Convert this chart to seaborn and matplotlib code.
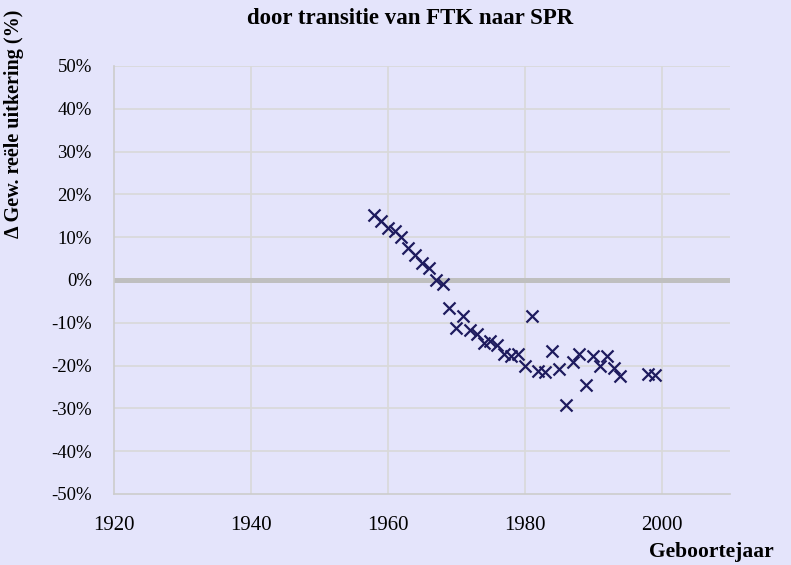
import pandas as pd
import matplotlib.pyplot as plt
import seaborn as sns

# Geboortejaar en verandering van de gewogen reële uitkering (%)
jaren = [1958, 1959, 1960, 1961, 1962, 1963, 1964, 1965, 1966, 1967,
         1968, 1969, 1970, 1971, 1972, 1973, 1974, 1975, 1976, 1977,
         1978, 1979, 1980, 1981, 1982, 1983, 1984, 1985, 1986, 1987,
         1988, 1989, 1990, 1991, 1992, 1993, 1994, 1998, 1999]
delta = [15.1, 13.7, 12.1, 11.4, 10.0, 7.5, 5.8, 4.0, 2.8, 0.1,
         -0.9, -6.6, -11.2, -8.5, -11.6, -12.6, -14.7, -14.3, -15.1, -17.4,
         -17.8, -17.3, -20.2, -8.5, -21.2, -21.5, -16.5, -20.7, -29.1, -19.2,
         -17.3, -24.6, -17.8, -20.2, -17.8, -20.6, -22.5, -22.0, -22.1]

x_ticks = [1920, 1940, 1960, 1980, 2000]
y_ticks = [-50, -40, -30, -20, -10, 0, 10, 20, 30, 40, 50]
y_labels = [f"{v}%" for v in y_ticks]

df = pd.DataFrame({"Geboortejaar": jaren, "Delta": delta})

bg = "#e4e4fb"
sns.set_theme(style="white")
plt.rcParams['font.family'] = ['Liberation Serif', 'DejaVu Serif']

fig = plt.figure(figsize=(7.91, 5.65), dpi=100, facecolor=bg)
ax = fig.add_axes([0.1441, 0.1257, 0.9229 - 0.1441, 0.8832 - 0.1257])
ax.set_facecolor(bg)

# rasterlijnen
for t in x_ticks[1:]:
    ax.axvline(t, color="#d9d9d9", lw=1.2, zorder=0)
for t in y_ticks[1:]:
    ax.axhline(t, color="#d9d9d9", lw=1.2, zorder=0)
ax.axhline(0, color="#bfbfbf", lw=3.6, zorder=1)

sns.scatterplot(data=df, x="Geboortejaar", y="Delta", marker="x",
                color="#1e1b5e", s=75, linewidth=1.6, ax=ax, zorder=3)

ax.set_xlim(1920, 2010)
ax.set_ylim(-50, 50)
ax.set_xticks(x_ticks)
ax.set_xticklabels([str(t) for t in x_ticks], fontsize=15)
ax.set_yticks(y_ticks)
ax.set_yticklabels(y_labels, fontsize=13.5)
ax.tick_params(axis='both', length=0, colors="black")
ax.tick_params(axis='x', pad=16)
ax.tick_params(axis='y', pad=16)
ax.set_xlabel("")
ax.set_ylabel("")

for s in ["top", "right"]:
    ax.spines[s].set_visible(False)
for s in ["left", "bottom"]:
    ax.spines[s].set_color("#cccccc")
    ax.spines[s].set_linewidth(1.2)

fig.text(0.518, 1 - 19 / 565, "door transitie van FTK naar SPR",
         ha="center", va="center", fontsize=16.5, fontweight="bold", color="black")
fig.text(0.018, 1 - 124 / 565, "Δ Gew. reële uitkering (%)",
         ha="center", va="center", rotation=90, fontsize=14.5, fontweight="bold",
         color="black")
fig.text(0.978, 1 - 552 / 565, "Geboortejaar",
         ha="right", va="center", fontsize=15.5, fontweight="bold", color="black")

fig.savefig("out.png", dpi=100, facecolor=bg)
